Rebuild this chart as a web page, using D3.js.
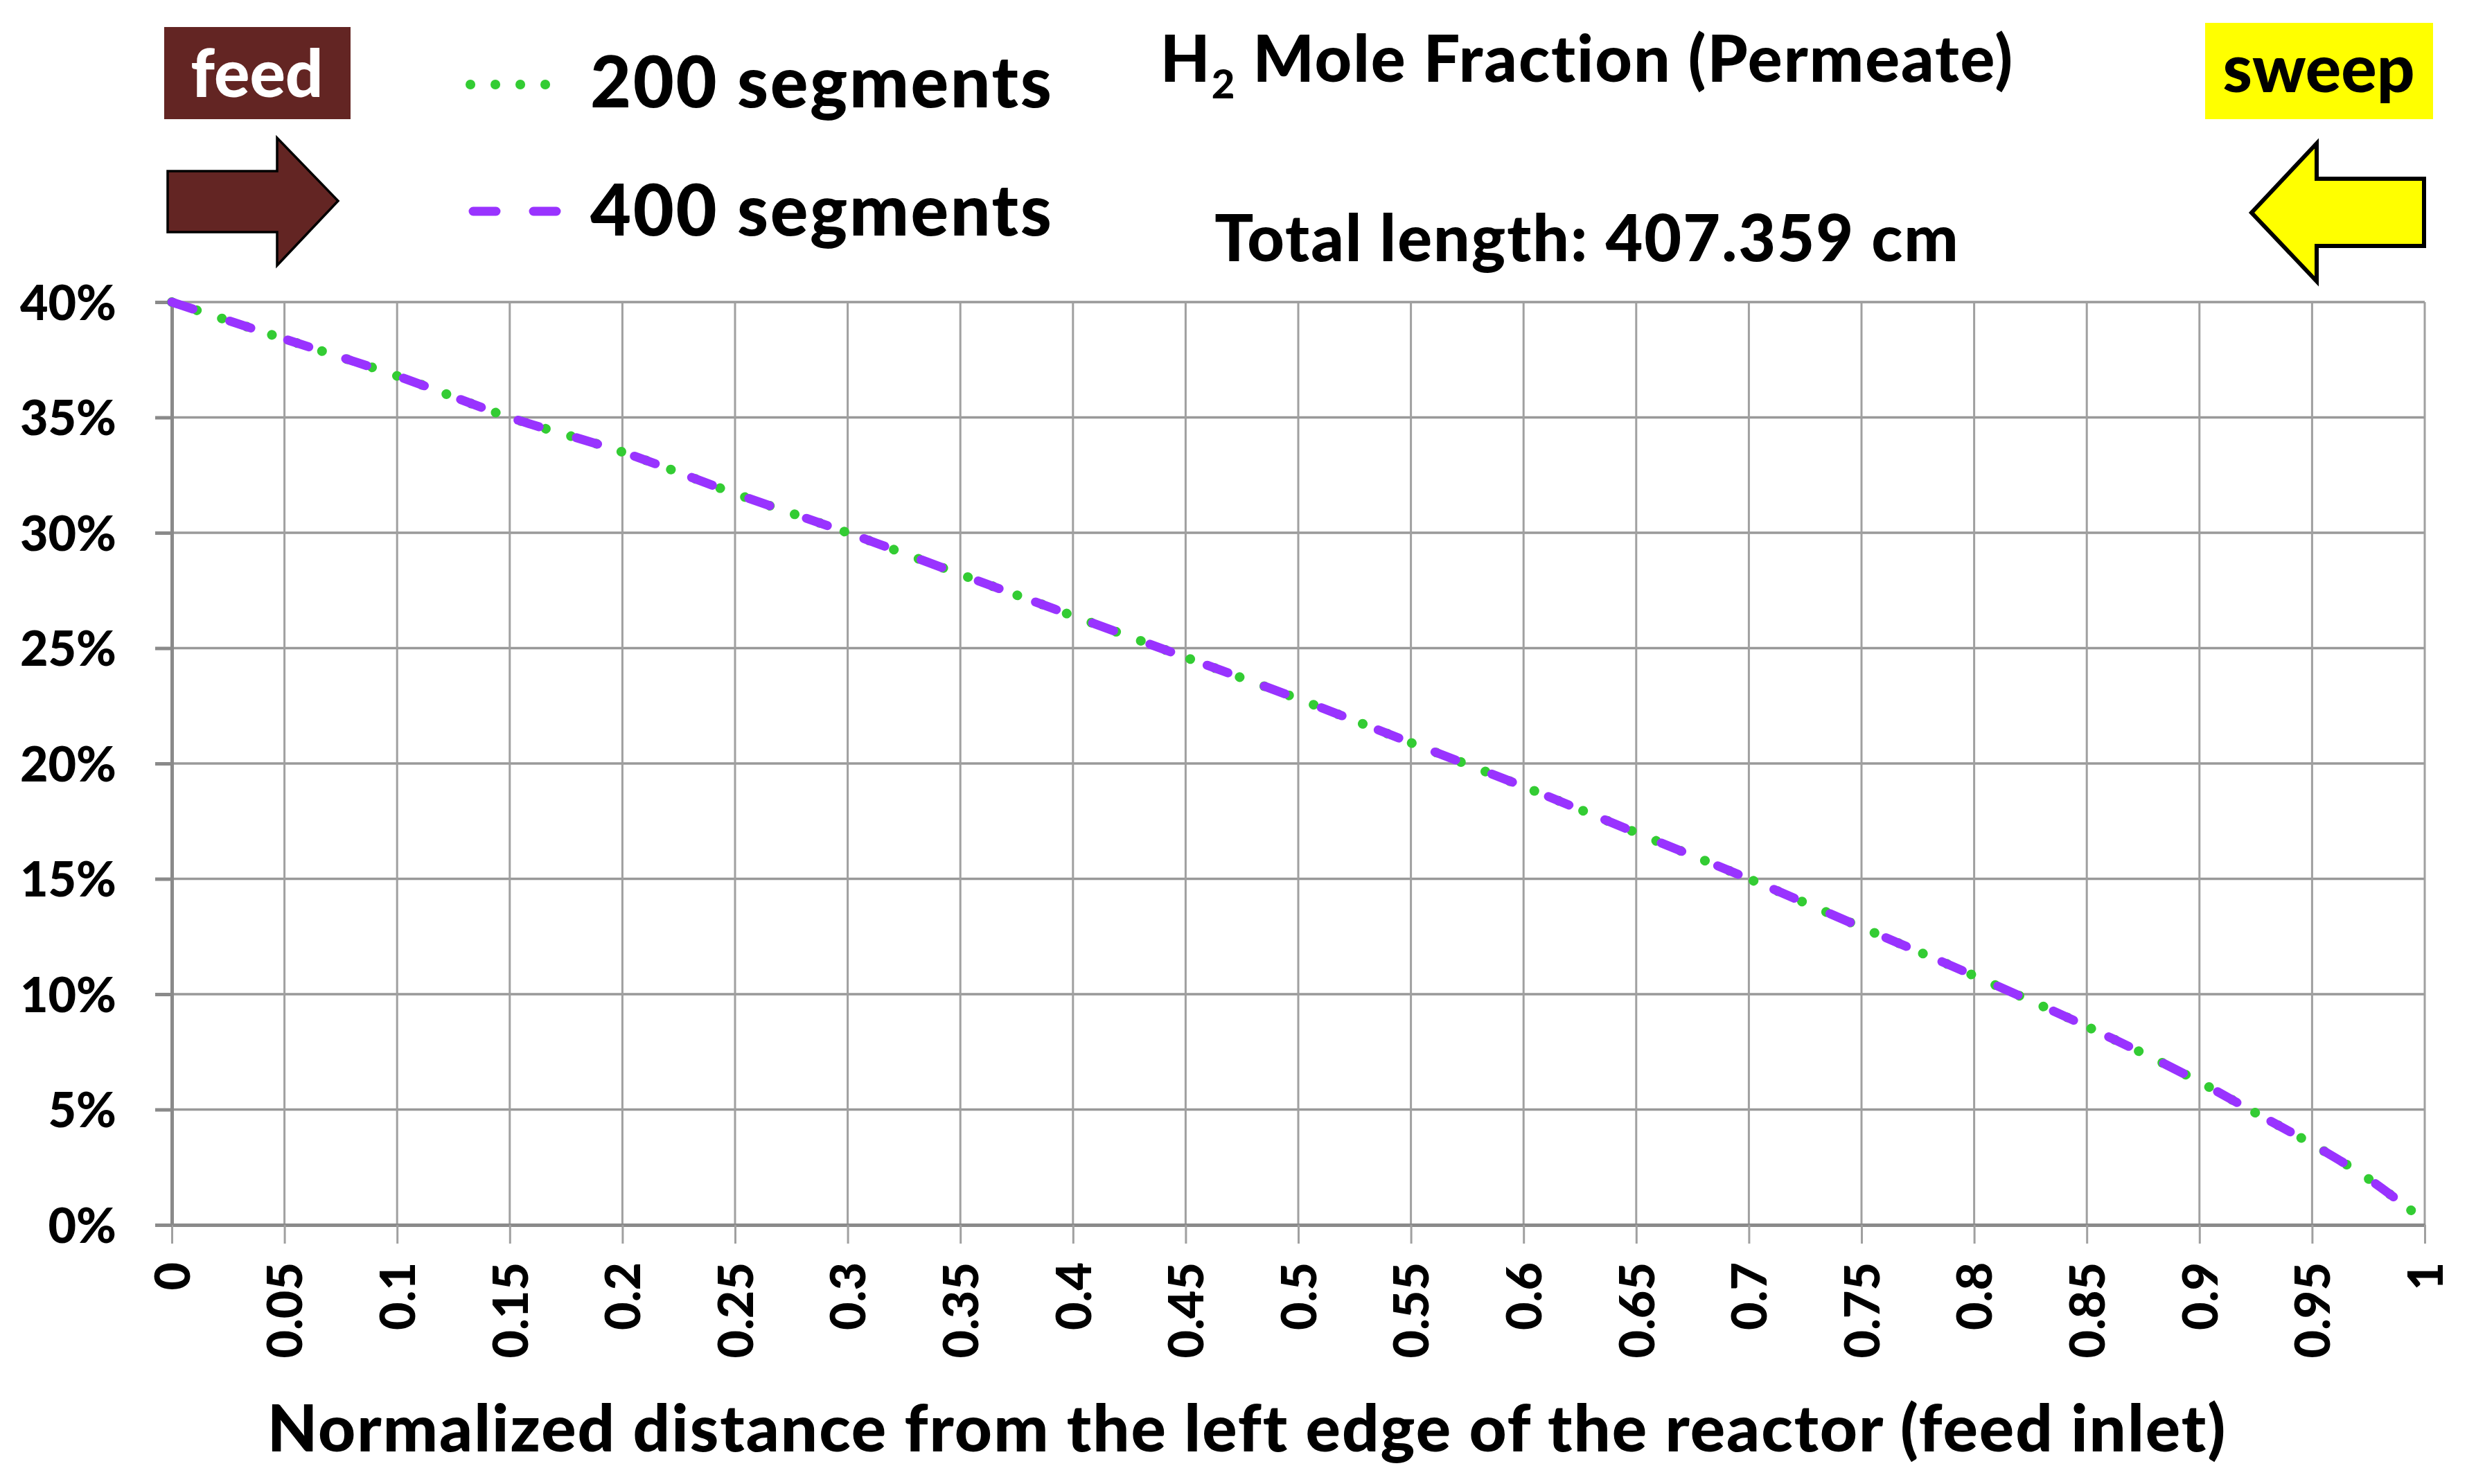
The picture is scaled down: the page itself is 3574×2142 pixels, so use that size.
<!DOCTYPE html>
<html>
<head>
<meta charset="utf-8">
<script src="https://cdn.jsdelivr.net/npm/d3@7"></script>
<style>
  body { margin: 0; background: #fff; }
  text { font-family: Lato, "Open Sans", sans-serif; font-weight: 900; }
</style>
</head>
<body>
<div class="chart"></div>
<script>
var svgWidth = 3574;
var svgHeight = 2142;

var margin = {
  top: 436,
  right: 74,
  bottom: 374,
  left: 248
};

var width = svgWidth - margin.left - margin.right;
var height = svgHeight - margin.top - margin.bottom;

// data (H2 mole fraction in %, permeate side)
var distance = [0, 0.05, 0.1, 0.15, 0.2, 0.25, 0.3, 0.35, 0.4, 0.45, 0.5, 0.55,
  0.6, 0.65, 0.7, 0.75, 0.8, 0.85, 0.9, 0.925, 0.95, 0.975, 0.995];
var seg200 = [40.0, 38.4, 36.8, 35.0, 33.5, 31.7, 30.0, 28.2, 26.4, 24.6, 22.8, 20.9,
  19.0, 17.0, 15.0, 12.9, 10.8, 8.6, 6.2, 4.85, 3.5, 2.0, 0.55];
var seg400 = [40.0, 38.4, 36.8, 35.0, 33.5, 31.7, 30.0, 28.2, 26.4, 24.6, 22.8, 20.9,
  19.0, 17.0, 15.0, 12.9, 10.8, 8.6, 6.2, 4.85, 3.5, 2.0, 0.55];

var seriesNames = ["200 segments", "400 segments"];
var seriesColors = ["#33cc33", "#9933ff"];

var xTicks = [0, 0.05, 0.1, 0.15, 0.2, 0.25, 0.3, 0.35, 0.4, 0.45, 0.5, 0.55,
  0.6, 0.65, 0.7, 0.75, 0.8, 0.85, 0.9, 0.95, 1];
var yTicks = [0, 5, 10, 15, 20, 25, 30, 35, 40];

var titleText = " Mole Fraction (Permeate)";
var lengthText = "Total length: 407.359 cm";
var xTitle = "Normalized distance from the left edge of the reactor (feed inlet)";

var svg = d3.select(".chart")
  .append("svg")
  .attr("width", svgWidth)
  .attr("height", svgHeight);

svg.append("rect")
  .attr("width", svgWidth)
  .attr("height", svgHeight)
  .attr("fill", "#fff");

var chartGroup = svg.append("g")
  .attr("transform", `translate(${margin.left}, ${margin.top})`);

var xScale = d3.scaleLinear().domain([0, 1]).range([0, width]);
var yScale = d3.scaleLinear().domain([0, 40]).range([height, 0]);

// gridlines
chartGroup.append("g")
  .selectAll("line")
  .data(yTicks)
  .join("line")
    .attr("x1", 0)
    .attr("x2", width)
    .attr("y1", d => yScale(d))
    .attr("y2", d => yScale(d))
    .attr("stroke", "#999")
    .attr("stroke-width", 3.5);

chartGroup.append("g")
  .selectAll("line")
  .data(xTicks)
  .join("line")
    .attr("x1", d => xScale(d))
    .attr("x2", d => xScale(d))
    .attr("y1", 0)
    .attr("y2", height)
    .attr("stroke", "#a0a0a0")
    .attr("stroke-width", 3);

// axes
var bottomAxis = d3.axisBottom(xScale)
  .tickValues(xTicks)
  .tickSize(27)
  .tickSizeOuter(0)
  .tickFormat(d => String(+d.toFixed(2)));

var leftAxis = d3.axisLeft(yScale)
  .tickValues(yTicks)
  .tickSize(24)
  .tickSizeOuter(0)
  .tickPadding(56)
  .tickFormat(d => d + "%");

var xAxisG = chartGroup.append("g")
  .attr("transform", `translate(0, ${height})`)
  .call(bottomAxis);

xAxisG.select(".domain").attr("stroke", "#8a8a8a").attr("stroke-width", 5);
xAxisG.selectAll(".tick line").attr("stroke", "#a0a0a0").attr("stroke-width", 3);
xAxisG.selectAll(".tick text")
  .attr("transform", "rotate(-90)")
  .attr("text-anchor", "end")
  .attr("x", -54)
  .attr("y", 0)
  .attr("dy", "0.36em")
  .attr("fill", "#000")
  .style("font-size", "70px")
  .style("font-family", "Lato, sans-serif");

var yAxisG = chartGroup.append("g")
  .call(leftAxis);

yAxisG.select(".domain").attr("stroke", "#8a8a8a").attr("stroke-width", 5);
yAxisG.selectAll(".tick line").attr("stroke", "#8a8a8a").attr("stroke-width", 5);
yAxisG.selectAll(".tick text")
  .attr("fill", "#000")
  .attr("dy", "0.36em")
  .style("font-size", "70px")
  .style("font-family", "Lato, sans-serif");

// series
var line = d3.line()
  .x(d => xScale(d[0]))
  .y(d => yScale(d[1]))
  .curve(d3.curveMonotoneX);

chartGroup.append("path")
  .datum(d3.zip(distance, seg200))
  .attr("d", line)
  .attr("fill", "none")
  .attr("stroke", seriesColors[0])
  .attr("stroke-width", 14)
  .attr("stroke-linecap", "round")
  .attr("stroke-dasharray", "0.1 37.9");

chartGroup.append("path")
  .datum(d3.zip(distance, seg400))
  .attr("d", line)
  .attr("fill", "none")
  .attr("stroke", seriesColors[1])
  .attr("stroke-width", 13)
  .attr("stroke-linecap", "round")
  .attr("stroke-dasharray", "32 56");

// legend
var legend = svg.append("g");

legend.append("line")
  .attr("x1", 679).attr("x2", 790)
  .attr("y1", 122).attr("y2", 122)
  .attr("stroke", seriesColors[0])
  .attr("stroke-width", 14)
  .attr("stroke-linecap", "round")
  .attr("stroke-dasharray", "0.1 35.9");

legend.append("line")
  .attr("x1", 683).attr("x2", 805)
  .attr("y1", 305).attr("y2", 305)
  .attr("stroke", seriesColors[1])
  .attr("stroke-width", 13)
  .attr("stroke-linecap", "round")
  .attr("stroke-dasharray", "33 54");

legend.selectAll("text")
  .data(seriesNames)
  .join("text")
    .attr("x", 852)
    .attr("y", (d, i) => i === 0 ? 155 : 340)
    .style("font-size", "102px")
    .style("letter-spacing", "2.6px")
    .text(d => d);

// titles
var title = svg.append("text")
  .attr("x", 2291)
  .attr("y", 118)
  .attr("text-anchor", "middle")
  .style("font-size", "93px")
  .style("letter-spacing", "2px");
title.append("tspan").text("H");
title.append("tspan").attr("dy", 24).style("font-size", "58px").text("2");
title.append("tspan").attr("dy", -24).text(titleText);

svg.append("text")
  .attr("x", 2291)
  .attr("y", 377)
  .attr("text-anchor", "middle")
  .style("font-size", "93px")
  .style("letter-spacing", "2px")
  .text(lengthText);

svg.append("text")
  .attr("x", 1800)
  .attr("y", 2095)
  .attr("text-anchor", "middle")
  .style("font-size", "94px")
  .style("letter-spacing", "2px")
  .text(xTitle);

// feed / sweep labels and arrows
svg.append("rect")
  .attr("x", 237).attr("y", 39)
  .attr("width", 269).attr("height", 133)
  .attr("fill", "#632523");

svg.append("text")
  .attr("x", 371).attr("y", 140)
  .attr("text-anchor", "middle")
  .attr("fill", "#fff")
  .style("font-size", "96px")
  .text("feed");

svg.append("polygon")
  .attr("points", "242,247 400,247 400,199 488,290 400,383 400,335 242,335")
  .attr("fill", "#632523")
  .attr("stroke", "#000")
  .attr("stroke-width", 3.5)
  .attr("stroke-linejoin", "miter");

svg.append("rect")
  .attr("x", 3183).attr("y", 33)
  .attr("width", 329).attr("height", 139)
  .attr("fill", "#ffff00");

svg.append("text")
  .attr("x", 3347).attr("y", 133)
  .attr("text-anchor", "middle")
  .attr("fill", "#000")
  .style("font-size", "96px")
  .text("sweep");

svg.append("polygon")
  .attr("points", "3499,258 3344,258 3344,207 3250,307 3344,406 3344,355 3499,355")
  .attr("fill", "#ffff00")
  .attr("stroke", "#000")
  .attr("stroke-width", 6)
  .attr("stroke-linejoin", "miter");
</script>
</body>
</html>
